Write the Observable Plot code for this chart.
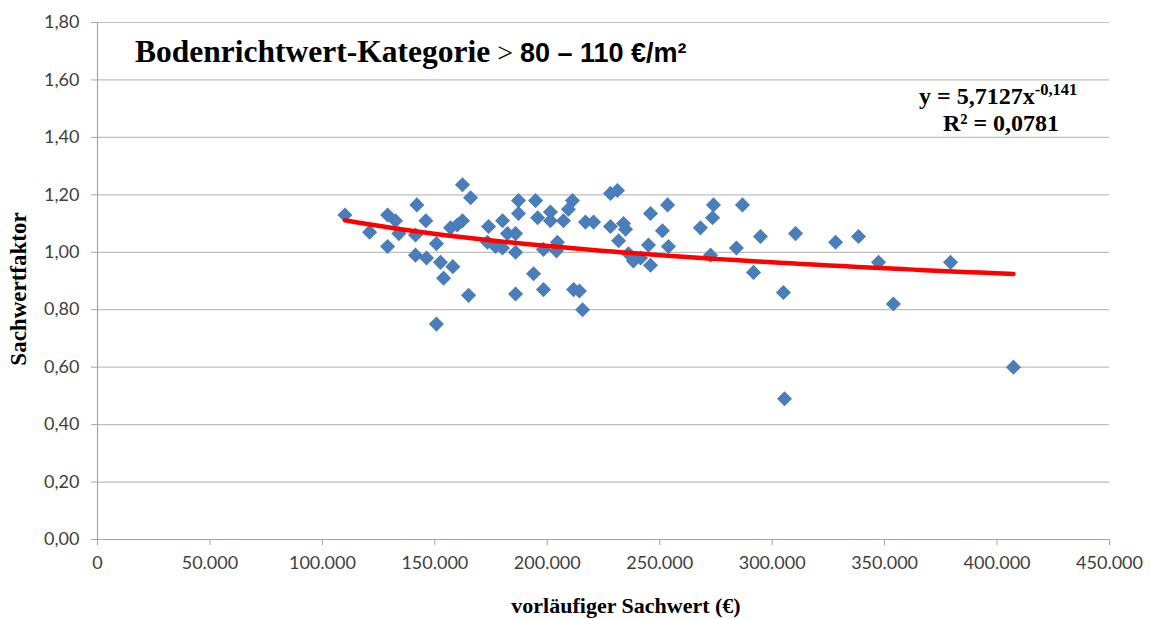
<!DOCTYPE html>
<html>
<head>
<meta charset="utf-8">
<script src="https://cdn.jsdelivr.net/npm/d3@7"></script>
<script src="https://cdn.jsdelivr.net/npm/@observablehq/plot@0.6"></script>
<style>
  html, body { margin: 0; padding: 0; background: #ffffff; }
  #chart svg { display: block; }
</style>
</head>
<body>
<div id="chart"></div>
<script>
// vorläufiger Sachwert (€)
const sachwert = [
  110000, 121000, 129000, 132500, 129000, 134000, 142000, 146000, 141400, 141400,
  146300, 150700, 152500, 158000, 153900, 150700, 162300, 165900, 162300, 157000,
  160000, 165000, 173900, 180100, 173400, 177000, 182300, 187200, 194800, 187200,
  195700, 201400, 201400, 207200, 211200, 209400, 217000, 220600, 228100, 231200,
  228100, 233900, 234800, 231700, 185900, 180100, 185900, 198300, 204500, 204100,
  193900, 185900, 198300, 211700, 214300, 215700, 238300, 241500, 245900, 236100,
  245000, 245900, 253500, 251200, 253900, 273900, 286800, 273500, 268100, 294800,
  310400, 328200, 272600, 284100, 291700, 305000, 338400, 347300, 353900, 379300,
  407300, 305500
];
// Sachwertfaktor
const faktor = [
  1.13, 1.07, 1.13, 1.11, 1.02, 1.065, 1.165, 1.11, 1.06, 0.99,
  0.98, 1.03, 0.965, 0.95, 0.91, 0.75, 1.235, 1.19, 1.11, 1.085,
  1.095, 0.85, 1.09, 1.11, 1.035, 1.02, 1.065, 1.18, 1.18, 1.135,
  1.12, 1.14, 1.11, 1.11, 1.18, 1.15, 1.105, 1.105, 1.205, 1.215,
  1.09, 1.10, 1.08, 1.04, 1.065, 1.015, 1.00, 1.01, 1.035, 1.005,
  0.925, 0.855, 0.87, 0.87, 0.865, 0.80, 0.97, 0.98, 0.955, 0.995,
  1.025, 1.135, 1.165, 1.075, 1.02, 1.165, 1.165, 1.12, 1.085, 1.055,
  1.065, 1.035, 0.99, 1.015, 0.93, 0.86, 1.055, 0.965, 0.82, 0.965,
  0.60, 0.49
];
// Trendline (Potenz) as printed in the chart: y = a * x^b
const trendA = 5.7127;
const trendB = -0.141;
const r2 = "0,0781";

const xTicks = [0, 50000, 100000, 150000, 200000, 250000, 300000, 350000, 400000, 450000];
const yTicks = [0, 0.2, 0.4, 0.6, 0.8, 1.0, 1.2, 1.4, 1.6, 1.8];

const points = sachwert.map((x, i) => ({x, y: faktor[i]}));
const xMin = d3.min(sachwert), xMax = d3.max(sachwert);
const trend = d3.range(0, 61).map(i => {
  const x = xMin + (xMax - xMin) * i / 60;
  return {x, y: trendA * Math.pow(x, trendB)};
});

const deFmt = d3.formatLocale({decimal: ",", thousands: ".", grouping: [3], currency: ["", " €"]});
const fmtX = deFmt.format(",");
const fmtY = deFmt.format(".2f");

const plot = Plot.plot({
  width: 1150,
  height: 619,
  marginLeft: 97,
  marginRight: 41,
  marginTop: 22,
  marginBottom: 80,
  style: {fontFamily: "Lato, 'Open Sans', sans-serif", fontSize: "18px", background: "#ffffff", color: "#404040"},
  x: {domain: [0, 450000]},
  y: {domain: [0, 1.8]},
  marks: [
    Plot.gridY(yTicks, {stroke: "#bfbfbf", strokeOpacity: 1, strokeWidth: 1.2}),
    Plot.ruleY([0], {stroke: "#a6a6a6", strokeWidth: 1.2}),
    Plot.ruleX([0], {stroke: "#a6a6a6", strokeWidth: 1.2}),
    Plot.axisX(xTicks, {tickSize: 6, tickPadding: 11, stroke: "#a6a6a6", fill: "#404040", tickFormat: fmtX, label: null}),
    Plot.axisY(yTicks, {tickSize: 6, tickPadding: 12, stroke: "#a6a6a6", fill: "#404040", tickFormat: fmtY, label: null}),
    Plot.dot(points, {x: "x", y: "y", symbol: "diamond2", r: 6.8, fill: "#4a7ebb", stroke: "none"}),
    Plot.line(trend, {x: "x", y: "y", stroke: "#ff0000", strokeWidth: 4.5, curve: "linear"})
  ]
});

document.getElementById("chart").appendChild(plot);

const svg = d3.select(plot);
const serif = "'Liberation Serif', 'Times New Roman', serif";

// Title
const title = svg.append("text").attr("x", 135).attr("y", 62).attr("text-anchor", "start").attr("fill", "#000");
title.append("tspan").attr("font-family", serif).attr("font-weight", "bold").attr("font-size", 31.5).text("Bodenrichtwert-Kategorie");
title.append("tspan").attr("font-family", serif).attr("font-size", 28).text(" > ");
title.append("tspan").attr("font-family", "'Liberation Sans', Arial, sans-serif").attr("font-weight", "bold").attr("font-size", 27).text("80 – 110 €/m²");

// Trendline equation
const eq = svg.append("text").attr("x", 919).attr("y", 104).attr("text-anchor", "start").attr("fill", "#000")
  .attr("font-family", serif).attr("font-weight", "bold").attr("font-size", 24);
eq.append("tspan").text("y = " + String(trendA).replace(".", ",") + "x");
eq.append("tspan").attr("font-size", 16.5).attr("dy", -9).text(String(trendB).replace(".", ","));
svg.append("text").attr("x", 1001).attr("y", 131).attr("text-anchor", "middle").attr("fill", "#000")
  .attr("font-family", serif).attr("font-weight", "bold").attr("font-size", 24)
  .text("R² = " + r2);

// Axis titles
svg.append("text").attr("transform", "translate(26,289) rotate(-90)").attr("text-anchor", "middle")
  .attr("font-family", serif).attr("font-weight", "bold").attr("font-size", 23).attr("fill", "#000")
  .text("Sachwertfaktor");
svg.append("text").attr("x", 626).attr("y", 613).attr("text-anchor", "middle")
  .attr("font-family", serif).attr("font-weight", "bold").attr("font-size", 22).attr("fill", "#000")
  .text("vorläufiger Sachwert (€)");
</script>
</body>
</html>
